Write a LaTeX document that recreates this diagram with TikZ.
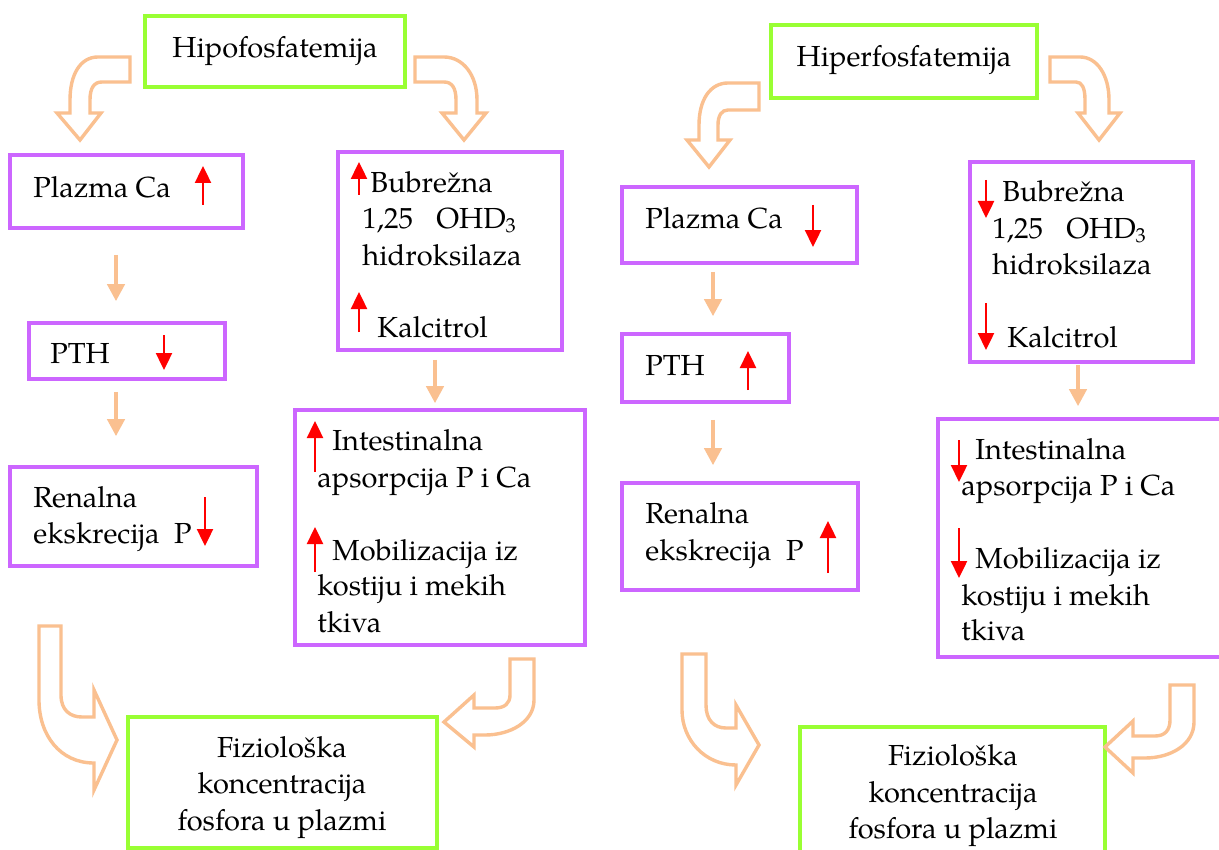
\documentclass[tikz,border=0pt]{standalone}
\usepackage{fontspec}
\setmainfont{texgyrepagella}[Extension=.otf, UprightFont=*-regular, BoldFont=*-bold, ItalicFont=*-italic, BoldItalicFont=*-bolditalic]
\usetikzlibrary{arrows.meta}
\definecolor{pur}{RGB}{204,102,255}
\definecolor{grn}{RGB}{153,255,51}
\definecolor{org}{RGB}{250,192,144}
\definecolor{rd}{RGB}{255,0,0}
\tikzset{
 pbox/.style={draw=pur, line width=1.8pt, inner sep=0pt, rectangle},
 gbox/.style={draw=grn, line width=1.8pt, inner sep=0pt, rectangle},
 txt/.style={inner sep=0pt, font=\fontsize{14.5pt}{18pt}\selectfont, text=black},
 thinarr/.style={draw=org, line width=2pt, -{Triangle[width=8.5pt,length=8.5pt]}},
 redarr/.style={draw=rd, line width=1.2pt, -{Triangle[width=8pt,length=8.5pt]}},
 blk/.style={draw=org, line width=1.7pt, fill=white, line join=miter},
}
\newcommand\mybx[6]{\node[#2, minimum width={(#5-#3)*0.5pt}, minimum height={(#6-#4)*0.5pt}] (#1) at ({(#3+#5)/2},{(#4+#6)/2}) {};}
\newcommand\mytl[3]{\node[txt, anchor=base west] (#1) at (#2) {#3};}
\newcommand\mytc[3]{\node[txt, anchor=base] (#1) at (#2) {#3};}
\begin{document}
\begin{tikzpicture}[x=0.5pt, y=-0.5pt]
\useasboundingbox (0,0) rectangle (1219,850);
\clip (0,0) rectangle (1219,850);
\fill[white] (0,0) rectangle (1219,850);

% ---------- left half boxes ----------
\mybx{hipo}{gbox}{145}{16}{405}{87}
\mybx{plzL}{pbox}{10}{155}{243}{228}
\mybx{pthL}{pbox}{29}{323}{225}{379}
\mybx{renL}{pbox}{10}{467}{257}{566}
\mybx{bubL}{pbox}{338}{152}{562}{350}
\mybx{intL}{pbox}{295}{410}{585}{645}
\mybx{fizL}{gbox}{128}{717}{437}{848}

% ---------- right half boxes ----------
\mybx{hiper}{gbox}{771}{25}{1037}{98}
\mybx{plzR}{pbox}{622}{187}{857}{263}
\mybx{pthR}{pbox}{622}{334}{789}{402}
\mybx{renR}{pbox}{622}{483}{858}{590}
\mybx{bubR}{pbox}{970}{162}{1193}{362}
\mybx{intR}{pbox}{938}{419}{1240}{657}
\mybx{fizR}{gbox}{800}{727}{1105}{880}

% ---------- texts left ----------
\mytc{t1}{275,58}{Hipofosfatemija}
\mytl{t2}{33,198}{Plazma Ca}
\mytl{t3}{50,363}{PTH}
\mytl{t4}{33,507}{Renalna}
\mytl{t5}{33,543}{ekskrecija\ \ P}
\mytl{t6}{370,193}{Bubrežna}
\mytl{t7}{362,228}{1,25\hspace{0.8em}OHD\textsubscript{3}}
\mytl{t8}{362,265}{hidroksilaza}
\mytl{t9}{377,337}{Kalcitrol}
\mytl{t10}{332,450}{Intestinalna}
\mytl{t11}{317,487}{apsorpcija P i Ca}
\mytl{t12}{332,560}{Mobilizacija iz}
\mytl{t13}{317,595}{kostiju i mekih}
\mytl{t14}{317,632}{tkiva}
\mytc{t15}{282,757}{Fiziološka}
\mytc{t16}{282,793}{koncentracija}
\mytc{t17}{282,830}{fosfora u plazmi}

% ---------- texts right ----------
\mytc{u1}{904,67}{Hiperfosfatemija}
\mytl{u2}{645,228}{Plazma Ca}
\mytl{u3}{645,375}{PTH}
\mytl{u4}{645,523}{Renalna}
\mytl{u5}{645,560}{ekskrecija\ \ P}
\mytl{u6}{1002,202}{Bubrežna}
\mytl{u7}{992,238}{1,25\hspace{0.8em}OHD\textsubscript{3}}
\mytl{u8}{992,274}{hidroksilaza}
\mytl{u9}{1007,347}{Kalcitrol}
\mytl{u10}{975,459}{Intestinalna}
\mytl{u11}{961,495}{apsorpcija P i Ca}
\mytl{u12}{975,568}{Mobilizacija iz}
\mytl{u13}{961,605}{kostiju i mekih}
\mytl{u14}{961,640}{tkiva}
\mytc{u15}{953,765}{Fiziološka}
\mytc{u16}{953,802}{koncentracija}
\mytc{u17}{953,838}{fosfora u plazmi}

% ---------- thin orange connectors ----------
\coordinate (xA) at (116,0);
\coordinate (xB) at (435,0);
\coordinate (xC) at (713,0);
\coordinate (xD) at (1078,0);
\draw[thinarr, shorten <=12.5pt, shorten >=10pt] (plzL.south -| xA) -- (pthL.north -| xA);
\draw[thinarr, shorten <=5.5pt, shorten >=14.5pt] (pthL.south -| xA) -- (renL.north -| xA);
\draw[thinarr, shorten <=4pt, shorten >=2.5pt] (bubL.south -| xB) -- (intL.north -| xB);
\draw[thinarr, shorten <=3.5pt, shorten >=8pt] (plzR.south -| xC) -- (pthR.north -| xC);
\draw[thinarr, shorten <=8pt, shorten >=8pt] (pthR.south -| xC) -- (renR.north -| xC);
\draw[thinarr, shorten <=0.5pt, shorten >=5.5pt] (bubR.south -| xD) -- (intR.north -| xD);

% ---------- curved block arrows ----------
% left half, top
\draw[blk] (130,57) -- (98,57) .. controls (80,57) and (70,75) .. (70,100) -- (70,113) -- (57,113) -- (80,140) -- (101,113) -- (90,113) -- (90,100) .. controls (90,88) and (94,82) .. (102,82) -- (130,82) -- cycle;
\draw[blk] (415,57) -- (444,57) .. controls (463,57) and (477,75) .. (477,100) -- (477,113) -- (486,113) -- (464,140) -- (442,113) -- (456,113) -- (456,100) .. controls (456,88) and (452,82) .. (444,82) -- (415,82) -- cycle;
% right half, top
\draw[blk] (759,83) -- (728,83) .. controls (710,83) and (699,100) .. (699,125) -- (699,140) -- (687,140) -- (709,167) -- (730,140) -- (718,140) -- (718,125) .. controls (718,115) and (722,110) .. (728,110) -- (759,110) -- cycle;
\draw[blk] (1050,57) -- (1080,57) .. controls (1097,57) and (1109,75) .. (1109,100) -- (1109,113) -- (1120,113) -- (1099,140) -- (1078,113) -- (1085,113) -- (1085,100) .. controls (1085,88) and (1082,82) .. (1076,82) -- (1050,82) -- cycle;
% left half, bottom
\draw[blk] (39,626) -- (61,626) -- (61,695) .. controls (61,710) and (70,717) .. (82,717) -- (94,717) -- (94,690) -- (117,740) -- (94,790) -- (94,763) .. controls (60,763) and (39,735) .. (39,700) -- cycle;
\draw[blk] (510,659) -- (534,659) -- (534,700) .. controls (534,722) and (510,735) .. (485,735) -- (474,735) -- (474,747) -- (444,722) -- (474,695) -- (474,708) -- (495,708) .. controls (505,708) and (510,703) .. (510,695) -- cycle;
% right half, bottom
\draw[blk] (682,654) -- (706,654) -- (706,705) .. controls (706,720) and (714,728) .. (726,728) -- (736,728) -- (736,705) -- (759,745) -- (736,785) -- (736,765) .. controls (705,765) and (682,740) .. (682,710) -- cycle;
\draw[blk] (1170,685) -- (1194,685) -- (1194,722) .. controls (1194,745) and (1170,758) .. (1145,758) -- (1133,758) -- (1133,773) -- (1105,747) -- (1133,721) -- (1133,736) -- (1155,736) .. controls (1165,736) and (1170,730) .. (1170,720) -- cycle;

% ---------- red indicator arrows ----------
\draw[redarr] (203,205) -- (203,166);
\draw[redarr] (164,335) -- (164,370);
\draw[redarr] (205,497) -- (205,546);
\draw[redarr] (359,195) -- (359,162);
\draw[redarr] (359,332) -- (359,292);
\draw[redarr] (315,472) -- (315,421);
\draw[redarr] (315,572) -- (315,527);
\draw[redarr] (813,205) -- (813,247);
\draw[redarr] (748,390) -- (748,351);
\draw[redarr] (828,573) -- (828,521);
\draw[redarr] (986,180) -- (986,218);
\draw[redarr] (986,303) -- (986,350);
\draw[redarr] (959,440) -- (959,482);
\draw[redarr] (959,528) -- (959,578);
\end{tikzpicture}
\end{document}
